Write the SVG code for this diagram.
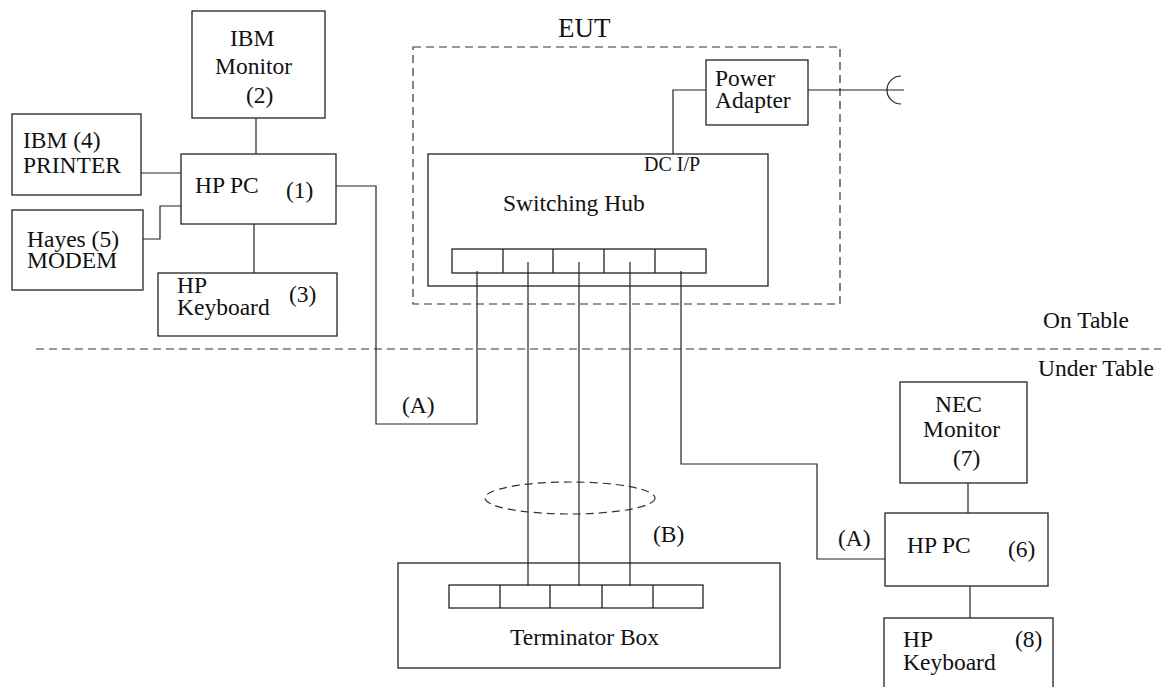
<svg xmlns="http://www.w3.org/2000/svg" width="1161" height="687" viewBox="0 0 1161 687">
<style>
.b{fill:none;stroke:#222;stroke-width:1.3}
.d{fill:none;stroke:#333;stroke-width:1.2;stroke-dasharray:8 5}
.c{fill:none;stroke:#222;stroke-width:1.2}
text{font-family:"Liberation Serif","Times New Roman",serif;font-size:23.5px;fill:#111}
.s{font-size:20px}
.e{font-size:27px}
</style>
<rect width="1161" height="687" fill="#fff"/>
<g id="table-line">
<line class="d" x1="36" y1="349" x2="1161" y2="349"/>
<text x="1043" y="328">On Table</text>
<text x="1038" y="376">Under Table</text>
</g>
<g id="eut">
<rect class="d" x="413" y="47" width="427" height="257"/>
<text class="e" x="558" y="37">EUT</text>
</g>
<g id="connectors">
<path class="c" d="M256,118V154"/>
<path class="c" d="M141,173H181"/>
<path class="c" d="M143,239H160V206H181"/>
<path class="c" d="M254,224V273"/>
<path class="c" d="M336,186H376V424H477V271"/>
<path class="c" d="M528,262V586"/>
<path class="c" d="M579,262V586"/>
<path class="c" d="M630,262V586"/>
<path class="c" d="M681,271V464H817V559H885"/>
<path class="c" d="M706,90H673V154"/>
<path class="c" d="M808,90H904"/>
<path class="c" d="M901,76A14,14 0 0 0 901,104"/>
<path class="c" d="M968,483V513"/>
<path class="c" d="M970,586V618"/>
<ellipse class="d" cx="570" cy="498" rx="85" ry="16"/>
<text x="402" y="413">(A)</text>
<text x="838" y="546">(A)</text>
<text x="653" y="542">(B)</text>
</g>
<g id="ibm-monitor">
<rect class="b" x="192" y="11" width="133" height="107"/>
<text x="230" y="46">IBM</text>
<text x="215" y="74">Monitor</text>
<text x="246" y="103">(2)</text>
</g>
<g id="ibm-printer">
<rect class="b" x="12" y="114" width="129" height="81"/>
<text x="23" y="148">IBM (4)</text>
<text x="23" y="173">PRINTER</text>
</g>
<g id="hp-pc-1">
<rect class="b" x="181" y="154" width="155" height="70"/>
<text x="195" y="193">HP PC</text>
<text x="286" y="198">(1)</text>
</g>
<g id="hayes-modem">
<rect class="b" x="12" y="210" width="131" height="80"/>
<text x="27" y="247">Hayes (5)</text>
<text x="27" y="268">MODEM</text>
</g>
<g id="hp-keyboard-3">
<rect class="b" x="158" y="273" width="179" height="63"/>
<text x="177" y="293">HP</text>
<text x="177" y="315">Keyboard</text>
<text x="289" y="302">(3)</text>
</g>
<g id="power-adapter">
<rect class="b" x="706" y="60" width="102" height="65"/>
<text x="715" y="86">Power</text>
<text x="715" y="108">Adapter</text>
</g>
<g id="switching-hub">
<rect class="b" x="428" y="154" width="340" height="132"/>
<text class="s" x="644" y="171">DC I/P</text>
<text x="503" y="211">Switching Hub</text>
<rect class="b" x="452" y="249" width="254" height="24"/>
<path class="b" d="M503,249V273M553,249V273M604,249V273M655,249V273"/>
</g>
<g id="terminator-box">
<rect class="b" x="398" y="563" width="382" height="105"/>
<rect class="b" x="449" y="585" width="254" height="23"/>
<path class="b" d="M500,585V608M550,585V608M602,585V608M653,585V608"/>
<text x="510" y="645">Terminator Box</text>
</g>
<g id="nec-monitor">
<rect class="b" x="900" y="382" width="127" height="101"/>
<text x="935" y="412">NEC</text>
<text x="923" y="437">Monitor</text>
<text x="953" y="466">(7)</text>
</g>
<g id="hp-pc-6">
<rect class="b" x="885" y="513" width="163" height="73"/>
<text x="907" y="553">HP PC</text>
<text x="1008" y="557">(6)</text>
</g>
<g id="hp-keyboard-8">
<rect class="b" x="884" y="618" width="169" height="72"/>
<text x="903" y="647">HP</text>
<text x="903" y="670">Keyboard</text>
<text x="1015" y="647">(8)</text>
</g>
</svg>
